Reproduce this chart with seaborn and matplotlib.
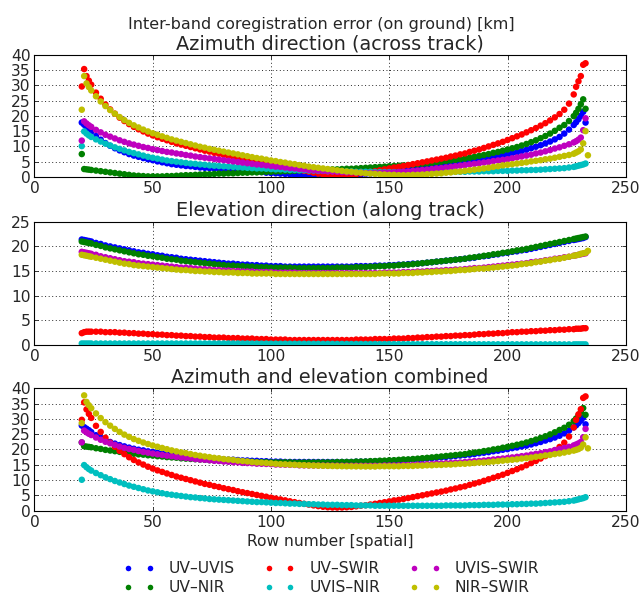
import numpy as np
import pandas as pd
import matplotlib
matplotlib.use("Agg")
import matplotlib.pyplot as plt
from matplotlib.lines import Line2D
import seaborn as sns

# Detector rows (spatial) at which the coregistration error was evaluated
ROWS = [20, 21, 22, 23] + list(range(24, 229, 2)) + [229, 230, 231, 232, 233, 234]

PAIRS = ["UV–UVIS", "UV–NIR", "UV–SWIR", "UVIS–NIR", "UVIS–SWIR", "NIR–SWIR"]
PAIR_COLORS = [(0, 0, 1), (0, 0.5, 0), (1, 0, 0), (0, 0.75, 0.75), (0.75, 0, 0.75), (0.75, 0.75, 0)]

nan = np.nan

# Azimuth (across-track) error on ground [km]
AZIMUTH_UV_UVIS = [
    17.8, 17.1, 16.4, 15.7,
    14.8, 13.4, 12.2, 11.1, 10.2, 9.4, 8.7, 8.1, 7.5, 7.0,
    6.6, 6.2, 5.8, 5.5, 5.1, 4.8, 4.5, 4.2, 4.0, 3.8,
    3.6, 3.5, 3.3, 3.1, 3.0, 2.9, 2.8, 2.7, 2.5, 2.4,
    2.3, 2.2, 2.1, 1.9, 1.8, 1.7, 1.6, 1.4, 1.3, 1.2,
    1.1, 1.0, 0.9, 0.7, 0.6, 0.6, 0.5, 0.5, 0.4, 0.4,
    0.4, 0.4, 0.4, 0.5, 0.5, 0.6, 0.7, 0.8, 1.0, 1.1,
    1.2, 1.4, 1.5, 1.7, 1.9, 2.0, 2.2, 2.4, 2.6, 2.8,
    3.0, 3.2, 3.4, 3.6, 3.8, 4.0, 4.2, 4.5, 4.7, 4.9,
    5.1, 5.4, 5.6, 5.9, 6.2, 6.5, 6.8, 7.1, 7.4, 7.8,
    8.1, 8.5, 8.9, 9.4, 9.9, 10.4, 11.0, 11.6, 12.3, 13.1,
    14.2, 15.5, 17.0,
    17.9, 18.9, 20.0, 21.3, 17.8, nan,
]
AZIMUTH_UV_NIR = [
    7.5, 2.6, 2.5, 2.4,
    2.3, 2.1, 1.9, 1.7, 1.5, 1.3, 1.1, 0.9, 0.7, 0.5,
    0.4, 0.3, 0.2, 0.2, 0.2, 0.2, 0.3, 0.3, 0.4, 0.5,
    0.6, 0.6, 0.7, 0.8, 0.9, 0.9, 1.0, 1.1, 1.1, 1.2,
    1.2, 1.3, 1.4, 1.4, 1.5, 1.5, 1.6, 1.7, 1.7, 1.8,
    1.8, 1.9, 1.9, 2.0, 2.1, 2.1, 2.2, 2.2, 2.3, 2.4,
    2.4, 2.5, 2.5, 2.6, 2.7, 2.7, 2.8, 2.9, 3.0, 3.1,
    3.2, 3.3, 3.4, 3.5, 3.6, 3.7, 3.8, 3.9, 4.0, 4.1,
    4.3, 4.4, 4.6, 4.8, 5.0, 5.2, 5.4, 5.6, 5.8, 6.0,
    6.3, 6.6, 6.9, 7.2, 7.5, 7.9, 8.2, 8.6, 9.0, 9.4,
    9.8, 10.3, 10.8, 11.4, 12.0, 12.7, 13.4, 14.2, 15.1, 16.1,
    17.0, 18.3, 19.9,
    21.0, 22.3, 23.8, 25.4, 22.3, nan,
]
AZIMUTH_UV_SWIR = [
    29.6, 35.3, 33.0, 31.5,
    30.2, 27.6, 25.6, 23.7, 22.1, 20.7, 19.4, 18.3, 17.3, 16.4,
    15.6, 14.9, 14.2, 13.6, 13.0, 12.5, 12.0, 11.5, 11.0, 10.6,
    10.2, 9.8, 9.4, 9.0, 8.6, 8.3, 7.9, 7.6, 7.2, 6.9,
    6.6, 6.2, 5.9, 5.6, 5.3, 5.0, 4.7, 4.4, 4.1, 3.8,
    3.5, 3.2, 2.9, 2.6, 2.3, 2.0, 1.7, 1.4, 1.1, 0.8,
    0.5, 0.3, 0.2, 0.3, 0.5, 0.7, 0.9, 1.2, 1.4, 1.7,
    1.9, 2.2, 2.5, 2.8, 3.1, 3.3, 3.6, 3.9, 4.2, 4.5,
    4.8, 5.1, 5.4, 5.7, 6.0, 6.3, 6.7, 7.0, 7.4, 7.7,
    8.2, 8.6, 9.0, 9.5, 10.0, 10.5, 11.0, 11.5, 12.1, 12.7,
    13.3, 13.9, 14.6, 15.3, 16.0, 16.8, 17.6, 18.5, 19.5, 20.6,
    22.0, 24.0, 27.0,
    29.5, 31.3, 33.0, 36.7, 37.2, nan,
]
AZIMUTH_UVIS_NIR = [
    10.1, 14.9, 14.2, 13.6,
    13.1, 12.3, 11.6, 10.9, 10.3, 9.7, 9.2, 8.7, 8.2, 7.8,
    7.4, 7.0, 6.6, 6.3, 6.0, 5.7, 5.4, 5.2, 5.0, 4.8,
    4.6, 4.4, 4.3, 4.1, 4.0, 3.8, 3.7, 3.6, 3.5, 3.4,
    3.3, 3.2, 3.1, 3.0, 2.9, 2.8, 2.8, 2.7, 2.6, 2.5,
    2.5, 2.4, 2.3, 2.3, 2.2, 2.2, 2.1, 2.1, 2.0, 2.0,
    1.9, 1.9, 1.9, 1.8, 1.8, 1.8, 1.7, 1.7, 1.7, 1.7,
    1.6, 1.6, 1.6, 1.6, 1.6, 1.6, 1.6, 1.6, 1.6, 1.6,
    1.6, 1.6, 1.6, 1.6, 1.6, 1.7, 1.7, 1.7, 1.7, 1.7,
    1.8, 1.8, 1.8, 1.9, 1.9, 1.9, 2.0, 2.0, 2.0, 2.1,
    2.1, 2.2, 2.2, 2.3, 2.3, 2.4, 2.5, 2.6, 2.7, 2.8,
    2.9, 3.1, 3.3,
    3.5, 3.7, 3.9, 4.1, 4.4, nan,
]
AZIMUTH_UVIS_SWIR = [
    11.9, 18.2, 17.5, 16.9,
    16.4, 15.4, 14.6, 13.8, 13.2, 12.6, 12.0, 11.5, 11.0, 10.6,
    10.2, 9.8, 9.5, 9.1, 8.8, 8.5, 8.2, 8.0, 7.7, 7.5,
    7.2, 7.0, 6.7, 6.5, 6.3, 6.1, 5.9, 5.7, 5.5, 5.3,
    5.1, 4.9, 4.7, 4.5, 4.3, 4.1, 4.0, 3.8, 3.6, 3.4,
    3.3, 3.1, 2.9, 2.8, 2.6, 2.5, 2.3, 2.2, 2.1, 2.0,
    1.9, 1.8, 1.7, 1.6, 1.5, 1.5, 1.4, 1.4, 1.3, 1.3,
    1.3, 1.3, 1.4, 1.4, 1.5, 1.6, 1.7, 1.8, 2.0, 2.1,
    2.3, 2.4, 2.6, 2.8, 2.9, 3.1, 3.3, 3.5, 3.7, 3.9,
    4.1, 4.3, 4.5, 4.7, 4.9, 5.2, 5.4, 5.6, 5.8, 6.1,
    6.4, 6.7, 7.0, 7.3, 7.7, 8.0, 8.4, 8.8, 9.3, 9.7,
    10.2, 10.7, 11.3,
    11.7, 12.2, 12.9, 15.3, 19.2, nan,
]
AZIMUTH_NIR_SWIR = [
    22.0, 33.0, 30.6, 29.4,
    28.3, 26.4, 24.7, 23.2, 21.9, 20.7, 19.6, 18.6, 17.7, 16.9,
    16.2, 15.5, 14.9, 14.3, 13.8, 13.3, 12.8, 12.3, 11.9, 11.5,
    11.1, 10.7, 10.3, 9.9, 9.6, 9.2, 8.9, 8.6, 8.3, 8.0,
    7.7, 7.4, 7.1, 6.8, 6.5, 6.2, 6.0, 5.7, 5.4, 5.2,
    4.9, 4.7, 4.4, 4.2, 3.9, 3.7, 3.4, 3.2, 3.0, 2.8,
    2.6, 2.4, 2.2, 2.0, 1.8, 1.7, 1.5, 1.4, 1.2, 1.1,
    1.0, 0.9, 0.8, 0.7, 0.7, 0.6, 0.6, 0.6, 0.7, 0.7,
    0.8, 0.9, 1.0, 1.1, 1.2, 1.4, 1.5, 1.7, 1.8, 2.0,
    2.2, 2.4, 2.6, 2.8, 3.0, 3.3, 3.5, 3.8, 4.0, 4.2,
    4.4, 4.6, 4.8, 5.1, 5.3, 5.5, 5.8, 6.0, 6.3, 6.6,
    6.9, 7.2, 7.6,
    8.0, 8.4, 9.0, 11.0, 15.0, 7.1,
]

# Elevation (along-track) error on ground [km]
ELEVATION_UV_UVIS = [
    21.4, 21.3, 21.2, 21.1,
    21.0, 20.7, 20.5, 20.2, 20.0, 19.8, 19.6, 19.4, 19.2, 19.0,
    18.8, 18.7, 18.5, 18.4, 18.2, 18.1, 17.9, 17.8, 17.7, 17.5,
    17.4, 17.3, 17.2, 17.1, 17.0, 16.9, 16.8, 16.7, 16.6, 16.5,
    16.5, 16.4, 16.3, 16.3, 16.2, 16.2, 16.1, 16.1, 16.0, 16.0,
    16.0, 15.9, 15.9, 15.9, 15.9, 15.9, 15.9, 15.9, 15.9, 15.9,
    15.9, 15.9, 15.9, 15.9, 15.9, 15.9, 16.0, 16.0, 16.0, 16.0,
    16.1, 16.1, 16.1, 16.2, 16.2, 16.3, 16.3, 16.4, 16.5, 16.5,
    16.6, 16.7, 16.8, 16.9, 17.0, 17.1, 17.2, 17.3, 17.4, 17.5,
    17.6, 17.7, 17.9, 18.0, 18.1, 18.3, 18.4, 18.6, 18.7, 18.9,
    19.0, 19.2, 19.3, 19.5, 19.7, 19.9, 20.1, 20.3, 20.5, 20.7,
    20.9, 21.1, 21.3,
    21.4, 21.5, 21.6, 21.7, 21.9, nan,
]
ELEVATION_UV_NIR = [
    21.0, 20.9, 20.8, 20.7,
    20.6, 20.3, 20.1, 19.8, 19.6, 19.4, 19.2, 19.0, 18.8, 18.6,
    18.4, 18.3, 18.1, 18.0, 17.8, 17.7, 17.5, 17.4, 17.3, 17.1,
    17.0, 16.9, 16.8, 16.7, 16.6, 16.5, 16.4, 16.3, 16.2, 16.1,
    16.1, 16.0, 16.0, 15.9, 15.9, 15.8, 15.8, 15.8, 15.7, 15.7,
    15.7, 15.7, 15.7, 15.6, 15.6, 15.6, 15.6, 15.6, 15.6, 15.6,
    15.6, 15.6, 15.7, 15.7, 15.7, 15.7, 15.8, 15.8, 15.8, 15.9,
    15.9, 16.0, 16.0, 16.1, 16.1, 16.2, 16.3, 16.3, 16.4, 16.5,
    16.6, 16.7, 16.8, 16.9, 17.0, 17.1, 17.2, 17.3, 17.4, 17.5,
    17.7, 17.8, 17.9, 18.1, 18.2, 18.4, 18.5, 18.7, 18.8, 19.0,
    19.2, 19.3, 19.5, 19.7, 19.9, 20.1, 20.3, 20.5, 20.7, 20.9,
    21.1, 21.3, 21.5,
    21.6, 21.7, 21.8, 21.9, 22.0, nan,
]
ELEVATION_UV_SWIR = [
    2.4, 2.6, 2.7, 2.7,
    2.7, 2.7, 2.7, 2.6, 2.6, 2.6, 2.5, 2.5, 2.4, 2.4,
    2.3, 2.3, 2.2, 2.2, 2.1, 2.1, 2.0, 2.0, 1.9, 1.9,
    1.8, 1.8, 1.7, 1.7, 1.6, 1.6, 1.5, 1.5, 1.5, 1.4,
    1.4, 1.4, 1.3, 1.3, 1.3, 1.2, 1.2, 1.2, 1.1, 1.1,
    1.1, 1.1, 1.0, 1.0, 1.0, 1.0, 1.0, 1.0, 1.0, 1.0,
    1.0, 1.0, 1.0, 1.0, 1.0, 1.0, 1.1, 1.1, 1.1, 1.1,
    1.2, 1.2, 1.2, 1.2, 1.3, 1.3, 1.3, 1.4, 1.4, 1.5,
    1.5, 1.6, 1.6, 1.7, 1.7, 1.8, 1.8, 1.9, 1.9, 2.0,
    2.0, 2.1, 2.2, 2.2, 2.3, 2.3, 2.4, 2.4, 2.5, 2.6,
    2.6, 2.7, 2.7, 2.8, 2.8, 2.9, 2.9, 3.0, 3.0, 3.1,
    3.1, 3.2, 3.2,
    3.3, 3.3, 3.3, 3.4, 3.4, nan,
]
ELEVATION_UVIS_NIR = [
    0.30, 0.30, 0.30, 0.30,
    0.30, 0.30, 0.30, 0.30, 0.30, 0.30, 0.30, 0.30, 0.30, 0.30,
    0.30, 0.30, 0.30, 0.30, 0.30, 0.30, 0.30, 0.30, 0.30, 0.30,
    0.30, 0.30, 0.30, 0.30, 0.30, 0.30, 0.30, 0.30, 0.30, 0.30,
    0.30, 0.30, 0.29, 0.29, 0.28, 0.28, 0.27, 0.27, 0.26, 0.26,
    0.25, 0.25, 0.25, 0.24, 0.24, 0.24, 0.23, 0.23, 0.23, 0.22,
    0.22, 0.22, 0.21, 0.21, 0.21, 0.20, 0.20, 0.20, 0.19, 0.19,
    0.19, 0.18, 0.18, 0.18, 0.18, 0.17, 0.17, 0.17, 0.17, 0.16,
    0.16, 0.16, 0.16, 0.16, 0.15, 0.15, 0.15, 0.15, 0.15, 0.15,
    0.14, 0.14, 0.14, 0.14, 0.14, 0.14, 0.14, 0.14, 0.14, 0.14,
    0.13, 0.13, 0.13, 0.13, 0.13, 0.13, 0.13, 0.13, 0.13, 0.13,
    0.12, 0.12, 0.12,
    0.12, 0.12, 0.12, 0.12, 0.12, nan,
]
ELEVATION_UVIS_SWIR = [
    18.9, 18.8, 18.7, 18.6,
    18.5, 18.3, 18.0, 17.8, 17.6, 17.4, 17.2, 17.0, 16.9, 16.8,
    16.6, 16.5, 16.4, 16.3, 16.2, 16.1, 16.0, 15.9, 15.8, 15.7,
    15.7, 15.6, 15.5, 15.4, 15.4, 15.3, 15.2, 15.2, 15.1, 15.1,
    15.0, 15.0, 14.9, 14.9, 14.9, 14.8, 14.8, 14.8, 14.8, 14.7,
    14.7, 14.7, 14.7, 14.7, 14.6, 14.6, 14.6, 14.6, 14.6, 14.6,
    14.6, 14.6, 14.6, 14.6, 14.6, 14.6, 14.6, 14.6, 14.6, 14.6,
    14.6, 14.6, 14.7, 14.7, 14.7, 14.7, 14.8, 14.8, 14.8, 14.9,
    14.9, 15.0, 15.0, 15.1, 15.1, 15.2, 15.2, 15.3, 15.3, 15.4,
    15.5, 15.6, 15.6, 15.7, 15.8, 15.9, 16.0, 16.1, 16.2, 16.3,
    16.4, 16.5, 16.6, 16.8, 16.9, 17.0, 17.2, 17.3, 17.5, 17.6,
    17.8, 17.9, 18.1,
    18.2, 18.3, 18.4, 18.5, 18.6, nan,
]
ELEVATION_NIR_SWIR = [
    18.3, 18.2, 18.1, 18.0,
    17.9, 17.7, 17.5, 17.3, 17.1, 16.9, 16.7, 16.5, 16.4, 16.2,
    16.1, 16.0, 15.9, 15.8, 15.7, 15.6, 15.5, 15.4, 15.3, 15.2,
    15.2, 15.1, 15.0, 15.0, 14.9, 14.9, 14.8, 14.8, 14.7, 14.7,
    14.7, 14.6, 14.6, 14.6, 14.5, 14.5, 14.5, 14.5, 14.5, 14.4,
    14.4, 14.4, 14.4, 14.4, 14.4, 14.4, 14.4, 14.4, 14.4, 14.4,
    14.4, 14.4, 14.4, 14.4, 14.4, 14.4, 14.4, 14.4, 14.4, 14.4,
    14.4, 14.5, 14.5, 14.5, 14.5, 14.5, 14.6, 14.6, 14.6, 14.7,
    14.7, 14.8, 14.8, 14.9, 14.9, 15.0, 15.0, 15.1, 15.2, 15.2,
    15.3, 15.4, 15.5, 15.5, 15.6, 15.7, 15.8, 15.9, 16.0, 16.1,
    16.2, 16.4, 16.5, 16.6, 16.8, 16.9, 17.1, 17.2, 17.4, 17.5,
    17.7, 17.9, 18.1,
    18.2, 18.3, 18.5, 18.6, 18.7, 19.1,
]

azimuth = [AZIMUTH_UV_UVIS, AZIMUTH_UV_NIR, AZIMUTH_UV_SWIR,
           AZIMUTH_UVIS_NIR, AZIMUTH_UVIS_SWIR, AZIMUTH_NIR_SWIR]
elevation = [ELEVATION_UV_UVIS, ELEVATION_UV_NIR, ELEVATION_UV_SWIR,
             ELEVATION_UVIS_NIR, ELEVATION_UVIS_SWIR, ELEVATION_NIR_SWIR]
# Total error is the root-sum-square of the two components
combined = [np.hypot(np.array(a), np.array(e)) for a, e in zip(azimuth, elevation)]


def long_table(series):
    frames = []
    for pair, values in zip(PAIRS, series):
        frames.append(pd.DataFrame({"row": ROWS, "error": np.asarray(values, float), "pair": pair}))
    return pd.concat(frames, ignore_index=True).dropna()


sns.set_style("white")
plt.rcParams["font.family"] = ["DejaVu Sans"]
plt.rcParams["font.size"] = 14

fig = plt.figure(figsize=(642 / 80, 601 / 80), dpi=80)
fig.suptitle("Inter-band coregistration error (on ground) [km]", fontsize=14.4, y=0.972)

panels = [
    ("Azimuth direction (across track)", azimuth, 40, [0.0537, 0.7055, 0.921, 0.2035]),
    ("Elevation direction (along track)", elevation, 25, [0.0537, 0.4260, 0.921, 0.2050]),
    ("Azimuth and elevation combined", combined, 40, [0.0537, 0.1503, 0.921, 0.2036]),
]

for i, (title, series, ymax, rect) in enumerate(panels):
    ax = fig.add_axes(rect)
    sns.scatterplot(data=long_table(series), x="row", y="error", hue="pair",
                    hue_order=PAIRS, palette=PAIR_COLORS, s=34, linewidth=0,
                    legend=False, ax=ax, zorder=3)
    ax.set_xlim(0, 250)
    ax.set_ylim(0, ymax)
    ax.set_xticks(range(0, 251, 50))
    ax.set_yticks(range(0, ymax + 1, 5))
    ax.set_title(title, fontsize=17.3, pad=5)
    ax.set_ylabel("")
    ax.set_xlabel("Row number [spatial]" if i == 2 else "", fontsize=14)
    ax.grid(True, color="black", linestyle=(0, (1, 3)), linewidth=0.8)
    ax.set_axisbelow(True)
    ax.tick_params(direction="in", length=4, width=0.8, labelsize=14,
                   bottom=True, left=True, top=True, right=True)
    for sp in ax.spines.values():
        sp.set_color("black")
        sp.set_linewidth(1.0)

handles = [Line2D([], [], marker="o", linestyle="none", markersize=5,
                  markerfacecolor=c, markeredgewidth=0, color=c) for c in PAIR_COLORS]
fig.legend(handles, PAIRS, loc="center", bbox_to_anchor=(0.516, 0.038), ncol=3,
           frameon=False, numpoints=2, fontsize=14, handlelength=2.0,
           handletextpad=0.9, columnspacing=1.9, labelspacing=0.25)

fig.savefig("out.png", dpi=80)
